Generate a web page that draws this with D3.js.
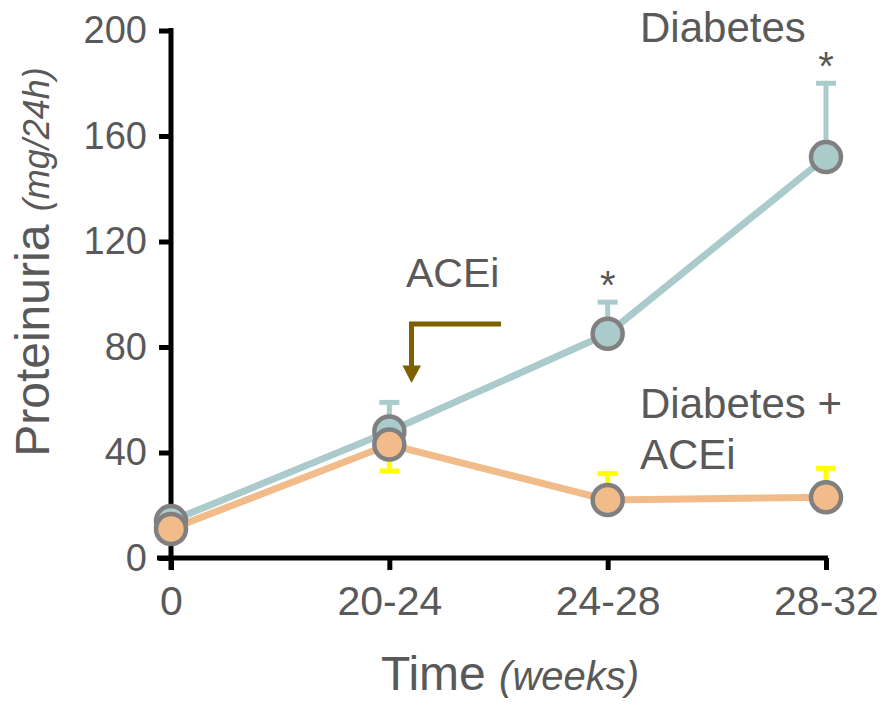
<!DOCTYPE html>
<html>
<head>
<meta charset="utf-8">
<script src="https://cdn.jsdelivr.net/npm/d3@7"></script>
<style>
  html, body { margin: 0; padding: 0; background: #fff; }
  svg { display: block; font-family: "Liberation Sans", Arial, sans-serif; }
</style>
</head>
<body>
<svg id="chart" width="883" height="723"></svg>
<script>
// ---- data ----
const categories = ["0", "20-24", "24-28", "28-32"];
const yTicks = [0, 40, 80, 120, 160, 200];
const diabetesMean = [14, 48, 85, 152];
const diabetesErrTop = [null, 59, 97, 180];
const aceiMean = [11, 43, 22, 23];
const aceiErrEnd = [null, 33, 32, 34];
const significant = [false, false, true, true];

// ---- layout ----
const svg = d3.select("#chart");
const x = d3.scalePoint().domain(categories).range([171, 826]);
const y = d3.scaleLinear().domain([0, 200]).range([558, 30.5]);

const textColor = "#595959";
const tealColor = "#abcacb";
const orangeColor = "#f2bb8a";
const capYellow = "#ffff00";
const ringColor = "#808080";

// axes
const yAxis = d3.axisLeft(y).tickValues(yTicks).tickSize(12).tickPadding(12).tickSizeOuter(0);
const xAxis = d3.axisBottom(x).tickSize(12).tickPadding(14).tickSizeOuter(0);

const gy = svg.append("g").attr("transform", "translate(171,0)").call(yAxis);
const gx = svg.append("g").attr("transform", "translate(0,558)").call(xAxis);

[gy, gx].forEach(g => {
  g.select(".domain").attr("stroke", "#000").attr("stroke-width", 5);
  g.selectAll(".tick line").attr("stroke", "#000").attr("stroke-width", 5);
  g.selectAll(".tick text").attr("fill", textColor).style("font-size", "38px")
    .style("font-family", "'Liberation Sans', Arial, sans-serif");
});
gx.selectAll(".tick text").style("font-size", "41px");
gy.select(".domain").attr("d", `M0,${y(0)+12}V${y(200)-2.5}`);
gy.selectAll(".tick line").attr("x1", 0);
gx.select(".domain").attr("d", `M${x(categories[0])-14},0H${x(categories[3])+2}`);
gx.selectAll(".tick text").attr("dy", "0.75em");

// axis titles
const yt = svg.append("text")
  .attr("transform", `translate(49,262) rotate(-90)`)
  .attr("text-anchor", "middle")
  .attr("fill", textColor)
  .style("font-size", "48px");
yt.append("tspan").text("Proteinuria ");
yt.append("tspan").style("font-style", "italic").style("font-size", "36px").text("(mg/24h)");

const xt = svg.append("text")
  .attr("x", 510).attr("y", 690)
  .attr("text-anchor", "middle")
  .attr("fill", textColor)
  .style("font-size", "48px");
xt.append("tspan").text("Time ");
xt.append("tspan").style("font-style", "italic").style("font-size", "40px").text("(weeks)");

// lines
const line = d3.line().x((d, i) => x(categories[i])).y(d => y(d));
svg.append("path").datum(diabetesMean).attr("d", line)
  .attr("fill", "none").attr("stroke", tealColor).attr("stroke-width", 7);
svg.append("path").datum(aceiMean).attr("d", line)
  .attr("fill", "none").attr("stroke", orangeColor).attr("stroke-width", 7);

// error bars
function errBars(mean, ends, stemColor, capColor) {
  const data = mean.map((m, i) => ({ i, m, e: ends[i] })).filter(d => d.e !== null);
  const g = svg.append("g");
  g.selectAll("line.stem").data(data).join("line")
    .attr("x1", d => x(categories[d.i])).attr("x2", d => x(categories[d.i]))
    .attr("y1", d => y(d.m)).attr("y2", d => y(d.e))
    .attr("stroke", stemColor).attr("stroke-width", 5);
  g.selectAll("line.cap").data(data).join("line")
    .attr("x1", d => x(categories[d.i]) - 10).attr("x2", d => x(categories[d.i]) + 10)
    .attr("y1", d => y(d.e)).attr("y2", d => y(d.e))
    .attr("stroke", capColor).attr("stroke-width", 5);
}
errBars(diabetesMean, diabetesErrTop, tealColor, tealColor);
errBars(aceiMean, aceiErrEnd, capYellow, capYellow);

// points
function points(mean, fill) {
  svg.append("g").selectAll("circle").data(mean).join("circle")
    .attr("cx", (d, i) => x(categories[i])).attr("cy", d => y(d))
    .attr("r", 15)
    .attr("fill", fill).attr("stroke", ringColor).attr("stroke-width", 4.5);
}
points(diabetesMean, tealColor);
points(aceiMean, orangeColor);

// significance
svg.append("g").selectAll("text").data(diabetesErrTop.map((e, i) => ({ e, i })).filter(d => significant[d.i]))
  .join("text")
  .attr("x", d => x(categories[d.i])).attr("y", d => y(d.e) - 3)
  .attr("text-anchor", "middle").attr("fill", textColor)
  .style("font-size", "40px").text("*");

// annotations
svg.append("text").attr("x", 640).attr("y", 42).attr("fill", textColor)
  .style("font-size", "42px").text("Diabetes");
svg.append("text").attr("x", 640).attr("y", 418).attr("fill", textColor)
  .style("font-size", "42px").text("Diabetes +");
svg.append("text").attr("x", 640).attr("y", 469).attr("fill", textColor)
  .style("font-size", "42px").text("ACEi");
svg.append("text").attr("x", 406).attr("y", 287).attr("fill", textColor)
  .style("font-size", "41px").text("ACEi");

// ACEi arrow
const brown = "#7f6000";
svg.append("path").attr("d", "M501,324H411.5V366")
  .attr("fill", "none").attr("stroke", brown).attr("stroke-width", 5);
svg.append("path").attr("d", "M402.5,365.5L421,365.5L411.5,383Z").attr("fill", brown);
</script>
</body>
</html>
